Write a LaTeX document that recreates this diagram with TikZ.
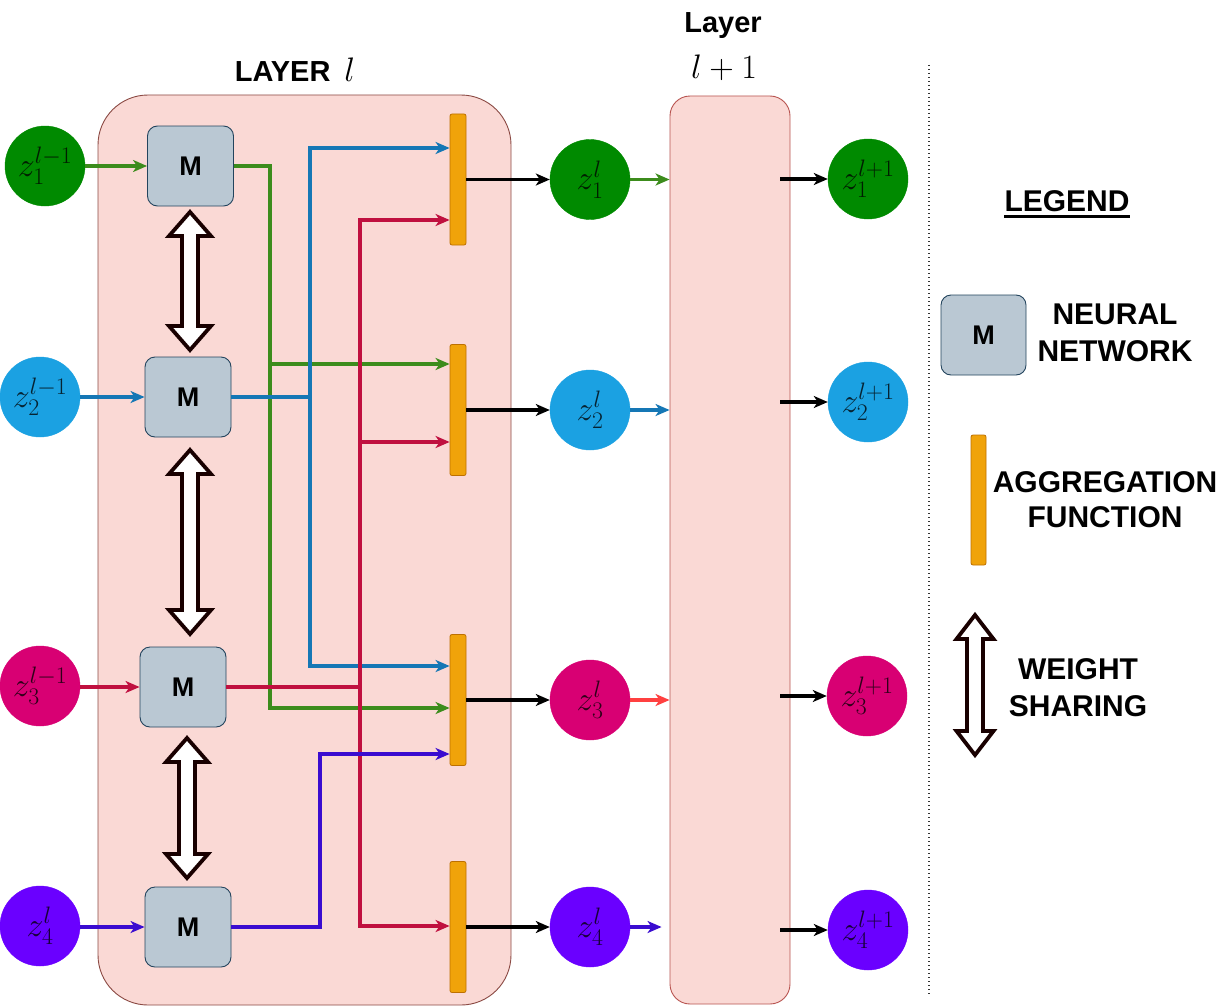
\RequirePackage{fix-cm}
\documentclass[tikz,border=0pt]{standalone}
\usepackage{fontspec}
\newfontfamily\lsans{Liberation Sans}
\usetikzlibrary{arrows.meta,calc}
\definecolor{layfill}{HTML}{FAD9D5}
\definecolor{laystrokeA}{HTML}{8B4A44}
\definecolor{laystrokeB}{HTML}{B85450}
\definecolor{mfill}{HTML}{BAC8D3}
\definecolor{mstroke}{HTML}{23445D}
\definecolor{aggfill}{HTML}{F0A30A}
\definecolor{aggstroke}{HTML}{BD7000}
\definecolor{cgreen}{HTML}{008A00}
\definecolor{cblue}{HTML}{1BA1E2}
\definecolor{cmag}{HTML}{D80073}
\definecolor{cvio}{HTML}{6A00FF}
\definecolor{lgreen}{HTML}{3C8C1C}
\definecolor{lblue}{HTML}{1577B5}
\definecolor{lred}{HTML}{C0103F}
\definecolor{lvio}{HTML}{3A0CD0}
\definecolor{lorange}{HTML}{FF4040}
\tikzset{
  layerbox/.style={draw=#1, fill=layfill, line width=0.9pt, inner sep=0pt},
  mbox/.style={draw=mstroke, fill=mfill, rounded corners=10pt, line width=0.9pt,
    minimum width=86pt, minimum height=80pt, inner sep=0pt,
    font=\lsans\bfseries\fontsize{27}{30}\selectfont},
  aggbar/.style={draw=aggstroke, fill=aggfill, rounded corners=2pt, line width=0.8pt,
    minimum width=16pt, minimum height=131pt, inner sep=0pt},
  zc/.style={circle, inner sep=0pt, minimum size=80pt, fill=#1, draw=#1,
    text=#1!22!black, font=\fontsize{34}{40}\selectfont},
  conn/.style={line width=3.4pt, draw=#1, -{Stealth[length=14pt,width=12pt,inset=4pt]}},
  plain/.style={line width=3.4pt, draw=#1},
  lbl/.style={font=\lsans\bfseries\fontsize{30}{37}\selectfont, align=center, inner sep=0pt},
  wsline/.style={draw=black!90!red, line width=3.8pt, fill=white, line join=miter},
  pics/wsarrow/.style 2 args={code={
    \draw[wsline] (0,0) -- (#2,24) -- (8,24) -- (8,#1-24) -- (#2,#1-24) -- (0,#1)
      -- (-#2,#1-24) -- (-8,#1-24) -- (-8,24) -- (-#2,24) -- cycle;}}
}
\begin{document}
\begin{tikzpicture}[x=1pt,y=-1pt]
\useasboundingbox[fill=white] (0,0) rectangle (1222,1006);

% layer boxes
\node[layerbox=laystrokeA, rounded corners=50pt, minimum width=413pt, minimum height=910pt] (L1) at (304.5,550) {};
\node[layerbox=laystrokeB, rounded corners=20pt, minimum width=120pt, minimum height=908pt] (L2) at (730,550) {};

% titles
\node[inner sep=0pt] (t1) at (295,70) {\lsans\bfseries\fontsize{29}{34}\selectfont LAYER\hspace{14pt}{\fontsize{34}{40}\selectfont$l$}};
\node[lbl, font=\lsans\bfseries\fontsize{29}{34}\selectfont] (t2) at (723,26) {Layer};
\node[inner sep=0pt] (t3) at (724,68) {\fontsize{34}{40}\selectfont$l+1$};

% input circles
\node[zc=cgreen] (p1) at (45,166) {$z_1^{l-1}$};
\node[zc=cblue] (p2) at (40,397) {$z_2^{l-1}$};
\node[zc=cmag] (p3) at (40,686) {$z_3^{l-1}$};
\node[zc=cvio] (p4) at (40,926) {$z_4^{l}$};

% M boxes
\node[mbox] (m1) at (190.5,166) {M};
\node[mbox] (m2) at (188,397) {M};
\node[mbox] (m3) at (183,687) {M};
\node[mbox] (m4) at (188,927) {M};

% weight sharing arrows
\pic at (190,212) {wsarrow={138}{21}};
\pic at (190,450) {wsarrow={184}{21}};
\pic at (187,738) {wsarrow={140}{21}};

% aggregation bars
\node[aggbar] (a1) at (458,179.5) {};
\node[aggbar] (a2) at (458,410) {};
\node[aggbar] (a3) at (458,700) {};
\node[aggbar] (a4) at (458,927) {};

% input arrows
\draw[conn=lgreen] (p1.east) -- (m1.west);
\draw[conn=lblue] (p2.east) -- (m2.west);
\draw[conn=lred] (p3.east |- m3) -- (m3.west);
\draw[conn=lvio] (p4.east |- m4) -- (m4.west);

% green routing
\draw[plain=lgreen] (m1.east) -| (270,364);
\draw[conn=lgreen] (270,364) |- (a3.west |- 0,708);
\draw[conn=lgreen] (270,364) -- (a2.west |- 0,364);
% blue routing
\draw[conn=lblue] (m2.east) -| (310,148) -- (a1.west |- 0,148);
\draw[conn=lblue] (310,397) |- (a3.west |- 0,666);
% red routing
\draw[conn=lred] (m3.east) -| (360,220) -- (a1.west |- 0,220);
\draw[conn=lred] (360,442) -- (a2.west |- 0,442);
\draw[conn=lred] (360,687) |- (a4.west |- 0,926);
% violet routing
\draw[conn=lvio] (m4.east) -| (320,754) -- (a3.west |- 0,754);

% layer l outputs
\node[zc=cgreen] (c1) at (590,179.5) {$z_1^{l}$};
\node[zc=cblue] (c2) at (590,410) {$z_2^{l}$};
\node[zc=cmag] (c3) at (590,700) {$z_3^{l}$};
\node[zc=cvio] (c4) at (590,927) {$z_4^{l}$};
\draw[conn=black] (a1.east) -- (c1.west);
\draw[conn=black] (a2.east) -- (c2.west);
\draw[conn=black] (a3.east) -- (c3.west);
\draw[conn=black] (a4.east) -- (c4.west);

\draw[conn=lgreen] (c1.east) -- (L2.west |- c1);
\draw[conn=lblue] (c2.east) -- (L2.west |- c2);
\draw[conn=lorange] (c3.east) -- (L2.west |- c3);
\draw[conn=lvio, shorten >=8pt] (c4.east) -- (L2.west |- c4);

% layer l+1 outputs
\node[zc=cgreen] (n1) at (868,179) {$z_1^{l+1}$};
\node[zc=cblue] (n2) at (868,402) {$z_2^{l+1}$};
\node[zc=cmag] (n3) at (867,696) {$z_3^{l+1}$};
\node[zc=cvio] (n4) at (868,930) {$z_4^{l+1}$};
\coordinate (o1) at (780,179);
\coordinate (o2) at (780,402);
\coordinate (o3) at (780,696);
\coordinate (o4) at (780,930);
\draw[conn=black] (o1) -- (n1.west);
\draw[conn=black] (o2) -- (n2.west);
\draw[conn=black] (o3) -- (n3.west);
\draw[conn=black] (o4) -- (n4.west);

% separator
\draw[line width=1.4pt, dash pattern=on 1.4pt off 2.6pt, black!80] (929,65) -- (929,995);

% legend
\node[lbl] (lg) at (1067,201) {LEGEND};
\draw[line width=2.6pt] ($(lg.base west)+(0,5)$) -- ($(lg.base east)+(0,5)$);
\node[mbox, minimum width=85pt] (lm) at (983.5,335) {M};
\node[lbl] (lmt) at (1115,333) {NEURAL\\NETWORK};
\node[aggbar, minimum width=15pt, minimum height=130pt] (la) at (978.5,500) {};
\node[lbl, font=\lsans\bfseries\fontsize{30}{35}\selectfont] (lat) at (1105,500) {AGGREGATION\\FUNCTION};
\pic at (975,615) {wsarrow={140}{18.5}};
\node[lbl] (lwt) at (1078,688) {WEIGHT\\SHARING};
\end{tikzpicture}
\end{document}
